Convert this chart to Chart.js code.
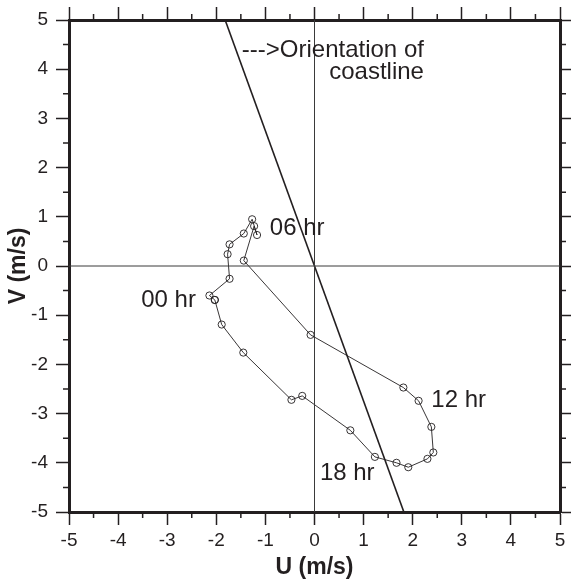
<!DOCTYPE html>
<html><head><meta charset="utf-8">
<script src="https://cdn.jsdelivr.net/npm/chart.js@4"></script>
<style>html,body{margin:0;padding:0;background:#fff}#wrap{width:571px;height:584px;position:relative}</style>
</head><body><div id="wrap"><canvas id="c" width="571" height="584"></canvas></div>
<script>
// Hodograph: hourly current vectors (U, V in m/s), starting at 00 hr, loop closed back to start
const hourU = [-2.03, -2.14, -1.73, -1.77, -1.73, -1.44, -1.27, -1.17, -1.23, -1.44, -0.08, 1.81, 2.12, 2.38, 2.42, 2.30, 1.91, 1.67, 1.23, 0.73, -0.25, -0.47, -1.45, -1.89, -2.03];
const hourV = [-0.69, -0.60, -0.26, 0.24, 0.44, 0.66, 0.95, 0.63, 0.81, 0.11, -1.40, -2.47, -2.74, -3.27, -3.79, -3.92, -4.09, -4.00, -3.88, -3.34, -2.64, -2.72, -1.76, -1.19, -0.69];
// Coastline orientation line
const coastU = [-1.82, 1.82];
const coastV = [5, -5];
// Axis ticks
const tickValues = [-5, -4, -3, -2, -1, 0, 1, 2, 3, 4, 5];
// Text annotations (in data coordinates)
const annotTexts = ['00 hr', '06 hr', '12 hr', '18 hr', '--->Orientation of', 'coastline'];
const annotU = [-3.53, -0.91, 2.38, 0.11, -1.48, 0.30];
const annotV = [-0.70, 0.77, -2.74, -4.21, 4.38, 3.94];

const BLK = '#231f20';
const FAM = '"Liberation Sans", Arial, Helvetica, sans-serif';

const minorTicks = tickValues.slice(1).map((v, i) => (v + tickValues[i]) / 2);

const minorPlugin = {
  id: 'minorTicks',
  afterDraw(chart) {
    const c = chart.ctx, a = chart.chartArea, L = 6;
    const sx = chart.scales.x, sy = chart.scales.y;
    c.save();
    c.strokeStyle = BLK; c.lineWidth = 1.5;
    c.beginPath();
    minorTicks.forEach(v => {
      const px = sx.getPixelForValue(v);
      c.moveTo(px, a.bottom); c.lineTo(px, a.bottom + L);
      c.moveTo(px, a.top); c.lineTo(px, a.top - L);
      const py = sy.getPixelForValue(v);
      c.moveTo(a.left, py); c.lineTo(a.left - L, py);
      c.moveTo(a.right, py); c.lineTo(a.right + L, py);
    });
    c.stroke();
    c.restore();
  }
};

const annotPlugin = {
  id: 'annot',
  afterDatasetsDraw(chart) {
    const c = chart.ctx, sx = chart.scales.x, sy = chart.scales.y;
    c.save();
    c.fillStyle = BLK;
    c.font = '24px ' + FAM;
    c.textAlign = 'left';
    c.textBaseline = 'middle';
    annotTexts.forEach((t, i) => {
      c.fillText(t, sx.getPixelForValue(annotU[i]), sy.getPixelForValue(annotV[i]));
    });
    c.restore();
  }
};

function setTicks(s) { s.ticks = tickValues.map(v => ({ value: v })); }

const gridOpts = { drawOnChartArea: false, drawTicks: true, tickLength: 13, tickWidth: 1.5, tickColor: BLK };
const borderOpts = { display: true, width: 3, color: BLK };

new Chart(document.getElementById('c').getContext('2d'), {
  type: 'scatter',
  data: {
    datasets: [
      { data: [{ x: -5, y: 0 }, { x: 5, y: 0 }], showLine: true, borderColor: '#3a3a3a', borderWidth: 1, pointRadius: 0, xAxisID: 'x', yAxisID: 'y' },
      { data: [{ x: 0, y: -5 }, { x: 0, y: 5 }], showLine: true, borderColor: '#3a3a3a', borderWidth: 1, pointRadius: 0, xAxisID: 'x', yAxisID: 'y' },
      { data: coastU.map((u, i) => ({ x: u, y: coastV[i] })), showLine: true, borderColor: BLK, borderWidth: 1.6, pointRadius: 0, xAxisID: 'x', yAxisID: 'y' },
      { data: hourU.map((u, i) => ({ x: u, y: hourV[i] })), showLine: true, borderColor: BLK, borderWidth: 0.9, pointRadius: 3.6, pointBorderWidth: 0.9, pointBorderColor: BLK, pointBackgroundColor: 'rgba(0,0,0,0)', xAxisID: 'x', yAxisID: 'y' }
    ]
  },
  options: {
    responsive: false, animation: false, devicePixelRatio: 1,
    layout: { padding: 0 },
    plugins: { legend: { display: false }, tooltip: { enabled: false } },
    scales: {
      x: {
        type: 'linear', position: 'bottom', min: -5, max: 5, afterBuildTicks: setTicks,
        ticks: { font: { family: FAM, size: 19 }, color: BLK, padding: 4, maxRotation: 0, autoSkip: false, callback: v => String(v) },
        grid: gridOpts, border: borderOpts,
        title: { display: true, text: 'U (m/s)', color: BLK, font: { family: FAM, size: 23, weight: 'bold' }, padding: { top: 0, bottom: 3 } },
        afterFit: s => { s.height = 72; }
      },
      y: {
        type: 'linear', position: 'left', min: -5, max: 5, afterBuildTicks: setTicks,
        ticks: { font: { family: FAM, size: 19 }, color: BLK, padding: 8, autoSkip: false, callback: v => String(v) },
        grid: gridOpts, border: borderOpts,
        title: { display: true, text: 'V (m/s)', color: BLK, font: { family: FAM, size: 23, weight: 'bold' }, padding: { top: 5, bottom: 0 } },
        afterFit: s => { s.width = 69; }
      },
      x2: {
        type: 'linear', position: 'top', min: -5, max: 5, afterBuildTicks: setTicks,
        ticks: { display: false }, grid: gridOpts, border: borderOpts,
        afterFit: s => { s.height = 20; }
      },
      y2: {
        type: 'linear', position: 'right', min: -5, max: 5, afterBuildTicks: setTicks,
        ticks: { display: false }, grid: gridOpts, border: borderOpts,
        afterFit: s => { s.width = 11; }
      }
    }
  },
  plugins: [minorPlugin, annotPlugin]
});
</script>
</body></html>
